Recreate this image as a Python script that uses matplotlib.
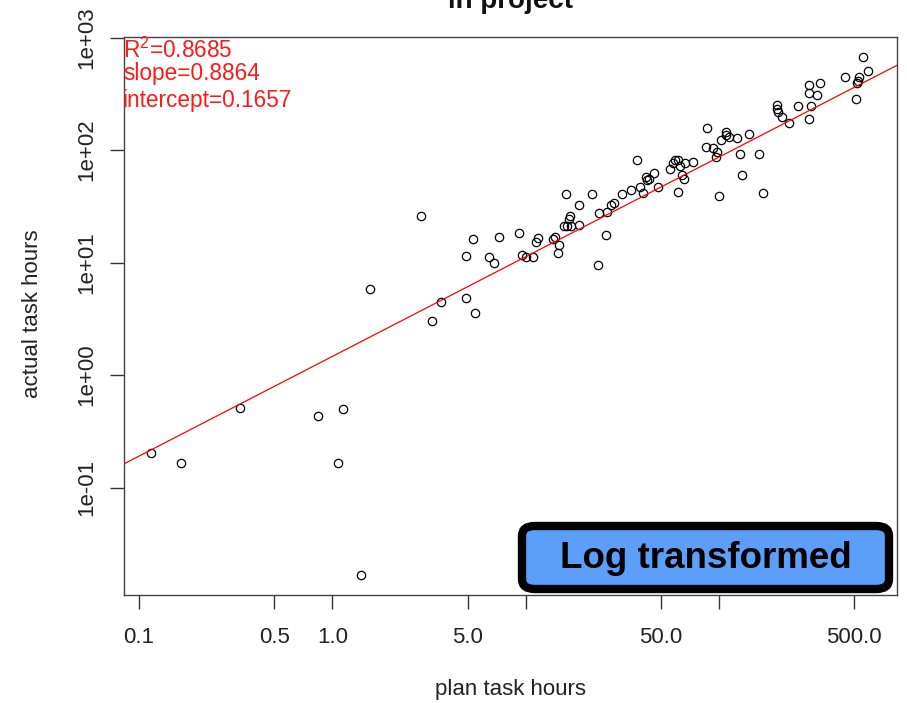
import numpy as np
import matplotlib
matplotlib.use("Agg")
import matplotlib.pyplot as plt
from matplotlib.patches import FancyBboxPatch

plt.rcParams['font.family'] = ['Liberation Sans', 'DejaVu Sans']

# ---- data ----
plan_hours = [0.116, 0.166, 0.333, 0.843, 1.13, 1.074, 1.41, 1.57, 3.66, 3.27,
              4.90, 5.47, 2.86, 5.36, 4.90, 7.28, 6.48, 6.86, 9.27, 9.53,
              10.0, 10.9, 11.6, 11.3, 37.8, 16.2, 22.0, 18.9, 31.4, 35.0,
              39.0, 40.6, 42.5, 46.2, 41.9, 48.5, 16.9, 16.8, 15.8, 16.4,
              17.2, 18.9, 23.8, 26.2, 27.5, 28.6, 25.9, 23.7, 14.2, 13.9,
              14.9, 14.6, 86.3, 109, 109, 112, 102, 123, 143, 85.5,
              93.3, 97.2, 96.4, 128, 160, 131, 61.5, 100, 168, 59.2,
              61.5, 58.0, 55.7, 62.8, 66.6, 73.6, 64.1, 66.1, 557, 591,
              448, 531, 525, 515, 510, 293, 333, 293, 320, 255,
              299, 293, 200, 200, 202, 211, 230, 43.5]
actual_hours = [0.203, 0.166, 0.507, 0.433, 0.503, 0.166, 0.0168, 5.83, 4.44, 3.05,
                4.82, 3.54, 26.0, 16.3, 11.5, 17.0, 11.1, 9.92, 18.4, 11.7,
                11.1, 11.1, 16.6, 15.1, 81.1, 41.0, 41.0, 32.7, 41.0, 44.2,
                46.7, 41.8, 54.2, 62.2, 57.3, 47.3, 26.0, 24.3, 21.1, 21.1,
                21.1, 21.4, 27.4, 28.3, 32.5, 34.1, 17.7, 9.58, 16.8, 16.1,
                14.4, 12.1, 156, 146, 136, 132, 123, 129, 139, 107,
                104, 96.8, 87.3, 91.8, 91.8, 60.1, 42.7, 39.1, 41.3, 81.7,
                81.7, 76.3, 67.5, 72.3, 76.3, 78.9, 60.1, 55.3, 668, 508,
                444, 444, 414, 393, 285, 379, 393, 324, 309, 248,
                248, 189, 252, 231, 219, 196, 175, 55.5]

r_squared = 0.8685
slope = 0.8864
intercept = 0.1657

x_ticks = [0.1, 0.5, 1, 5, 10, 50, 100, 500]
x_ticklabels = ["0.1", "0.5", "1.0", "5.0", "", "50.0", "", "500.0"]
y_ticks = [0.1, 1, 10, 100, 1000]
y_ticklabels = ["1e-01", "1e+00", "1e+01", "1e+02", "1e+03"]

# ---- figure ----
W, H = 907, 703
fig = plt.figure(figsize=(W / 100, H / 100), dpi=100)
ax = fig.add_axes([124 / W, 1 - 595 / H, (896.7 - 124) / W, (595 - 37.3) / H])
ax.set_xscale('log')
ax.set_yscale('log')
ax.set_xlim(0.08375, 828)
ax.set_ylim(0.0111, 1006)

ax.plot(plan_hours, actual_hours, linestyle='none', marker='o', markersize=6,
        markerfacecolor='none', markeredgecolor='black', markeredgewidth=0.9)

xl = np.array(ax.get_xlim())
xs = np.logspace(np.log10(xl[0]), np.log10(xl[1]), 50)
ax.plot(xs, 10 ** (intercept + slope * np.log10(xs)), color='red', lw=0.9)

ax.set_xticks(x_ticks)
ax.set_xticklabels(x_ticklabels)
ax.set_yticks(y_ticks)
ax.set_yticklabels(y_ticklabels, rotation=90, va='center')
ax.minorticks_off()
ax.tick_params(axis='both', direction='out', length=10, width=1.0, color='#333333',
               labelsize=16, labelcolor='#222222')
ax.tick_params(axis='x', pad=13)
ax.tick_params(axis='y', pad=9)
for s in ax.spines.values():
    s.set_color('#444444')
    s.set_linewidth(1.0)

# axis labels placed at the reference's positions
fig.text(510 / W, 1 - 690 / H, 'plan task hours', ha='center', va='center',
         fontsize=16, color='#222222')
fig.text(33 / W, 1 - 314 / H, 'actual task hours', ha='center', va='center',
         rotation=90, fontsize=16, color='#222222')

# title (cut off at top in the reference)
fig.text(510 / W, 1 - 8 / H, 'in project', ha='center', va='baseline',
         fontsize=20, fontweight='bold', color='#111111')

# red annotation
fig.text(123 / W, 1 - 50 / H, r'$\mathregular{R^2}$' + f'={r_squared:.4f}',
         ha='left', va='center', fontsize=16.3, color='#ff1a1a')
fig.text(123 / W, 1 - 73.5 / H, f'slope={slope:.4f}', ha='left', va='center',
         fontsize=16.3, color='#ff1a1a')
fig.text(123 / W, 1 - 100 / H, f'intercept={intercept:.4f}', ha='left', va='center',
         fontsize=16.3, color='#ff1a1a')

# "Log transformed" badge
bx0, bx1, by0, by1 = 522, 889, 526, 589
badge = FancyBboxPatch((bx0 / W, 1 - by1 / H), (bx1 - bx0) / W, (by1 - by0) / H,
                       boxstyle='round,pad=0,rounding_size=0.014',
                       transform=fig.transFigure, facecolor='#5b9ffb',
                       edgecolor='black', linewidth=6, zorder=5)
fig.add_artist(badge)
fig.text((bx0 + bx1) / 2 / W, 1 - 558 / H, 'Log transformed', ha='center', va='center',
         fontsize=26.5, fontweight='bold', color='black', zorder=6)

fig.savefig('out.png', dpi=100)
